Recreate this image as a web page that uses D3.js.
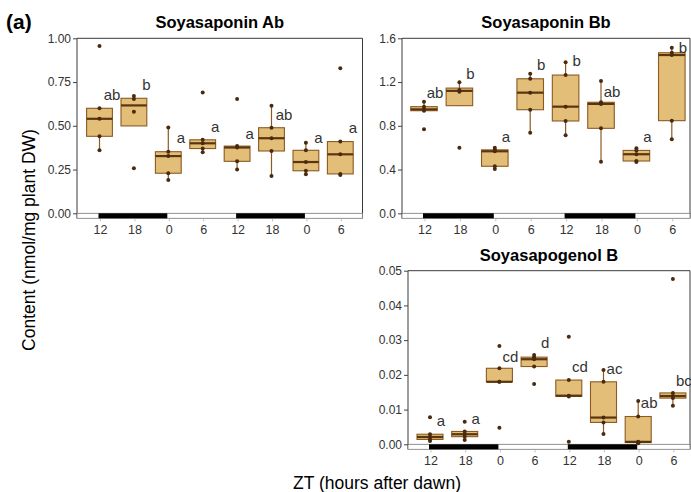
<!DOCTYPE html>
<html>
<head>
<meta charset="utf-8">
<script src="https://cdn.jsdelivr.net/npm/d3@7"></script>
<style>
  body { margin: 0; background: #fff; }
  svg text { font-family: "Liberation Sans", Arial, sans-serif; }
</style>
</head>
<body>
<svg id="chart" width="691" height="492"></svg>
<script>
/********************************* DONNEES *********************************/
// heures ZT (axe x), identiques pour les 3 panneaux
var zt = ["12", "18", "0", "6", "12", "18", "0", "6"];
// périodes de nuit (index de catégorie début -> fin)
var nights = [[0, 2], [4, 6]];

// Soyasaponin Ab (nmol/mg)
var abVals = [
  [0.956, 0.60, 0.54, 0.44, 0.36],
  [0.67, 0.653, 0.58, 0.257],
  [0.49, 0.352, 0.327, 0.229, 0.19],
  [0.691, 0.42, 0.40, 0.37, 0.349],
  [0.653, 0.384, 0.376, 0.297, 0.251],
  [0.615, 0.489, 0.429, 0.356, 0.213],
  [0.403, 0.36, 0.293, 0.243, 0.223],
  [0.829, 0.41, 0.337, 0.225, 0.219]
];
var abLetters = ["ab", "b", "a", "a", "a", "ab", "a", "a"];
var abLetterY = [0.647, 0.705, 0.402, 0.466, 0.423, 0.533, 0.403, 0.457];
var abTicks = [0, 0.25, 0.5, 0.75, 1];

// Soyasaponin Bb
var bbVals = [
  [1.02, 0.975, 0.95, 0.938, 0.768],
  [1.198, 1.127, 1.112, 0.60],
  [0.60, 0.58, 0.567, 0.43, 0.405],
  [1.276, 1.23, 1.103, 0.947, 0.737],
  [1.38, 1.264, 0.975, 0.844, 0.713],
  [1.21, 1.015, 1.0, 0.777, 0.472],
  [0.595, 0.575, 0.54, 0.478, 0.47],
  [1.514, 1.468, 1.447, 0.847, 0.677]
];
var bbLetters = ["ab", "b", "a", "b", "b", "ab", "a", "b"];
var bbLetterY = [1.051, 1.225, 0.655, 1.31, 1.347, 1.066, 0.655, 1.468];
var bbTicks = [0, 0.4, 0.8, 1.2, 1.6];

// Soyasapogenol B
var sgVals = [
  [0.0078, 0.0029, 0.0021, 0.0014, 0.00095],
  [0.0065, 0.0037, 0.0029, 0.0022, 0.00124],
  [0.0283, 0.0219, 0.018, 0.018, 0.0048],
  [0.0257, 0.0251, 0.0245, 0.0224, 0.0174],
  [0.031, 0.0185, 0.014, 0.0138, 0.00075],
  [0.0214, 0.018, 0.0077, 0.0063, 0.003],
  [0.0125, 0.008, 0.0007, 0.0005, 0.0003],
  [0.0476, 0.0148, 0.0139, 0.0133, 0.0111]
];
var sgLetters = ["a", "a", "cd", "d", "cd", "ac", "ab", "bc"];
var sgLetterY = [0.00527, 0.00585, 0.0238, 0.0276, 0.0209, 0.02025, 0.01054, 0.0168];
var sgTicks = [0, 0.01, 0.02, 0.03, 0.04, 0.05];

/********************************* STYLE *********************************/
var boxFill = "#e3be78";
var boxStroke = "#8c5a22";
var medColor = "#5b3410";
var dotColor = "#4a2a0e";
var textGrey = "#333";

var svg = d3.select("#chart");

// stats de boxplot (quantiles type 7 comme R, moustaches de Tukey)
function boxStats(v) {
  var s = v.slice().sort(d3.ascending);
  var q1 = d3.quantileSorted(s, 0.25),
      med = d3.quantileSorted(s, 0.5),
      q3 = d3.quantileSorted(s, 0.75);
  var iqr = q3 - q1;
  var lo = d3.min(s.filter(d => d >= q1 - 1.5 * iqr));
  var hi = d3.max(s.filter(d => d <= q3 + 1.5 * iqr));
  return { q1: q1, med: med, q3: q3, lo: lo, hi: hi };
}

/************************** FONCTION PRINCIPALE : PANNEAU **************************/
function drawPanel(p) {
  var x = d3.scalePoint()
    .domain(d3.range(zt.length))
    .range([p.c0, p.c0 + p.step * (zt.length - 1)]);
  var y = d3.scaleLinear().domain([0, p.max]).range([p.y0, p.y1]);
  var barH = 5;
  var bw = p.step * 0.75;

  var g = svg.append("g");

  // titre
  g.append("text")
    .attr("x", (p.left + p.right) / 2)
    .attr("y", p.titleY)
    .attr("text-anchor", "middle")
    .style("font-size", "16.5px")
    .style("font-weight", "bold")
    .text(p.title);

  // cadre (gauche, haut, droite)
  g.append("path")
    .attr("d", "M" + p.left + "," + (p.y0 + barH) + "V" + p.y1 + "H" + p.right + "V" + (p.y0 + barH))
    .attr("fill", "none")
    .attr("stroke", "#3a3a3a")
    .attr("stroke-width", 1);

  // bande jour / nuit sous l'axe
  g.append("rect")
    .attr("x", p.left).attr("y", p.y0)
    .attr("width", p.right - p.left).attr("height", barH)
    .attr("fill", "#fff").attr("stroke", "#777").attr("stroke-width", 0.8);
  g.selectAll(".night")
    .data(nights)
    .enter().append("rect")
    .attr("class", "night")
    .attr("x", d => x(d[0]) - 1)
    .attr("y", p.y0)
    .attr("width", d => x(d[1]) - x(d[0]))
    .attr("height", barH)
    .attr("fill", "#000");

  // axe y
  var yAxis = d3.axisLeft(y)
    .tickValues(p.ticks)
    .tickFormat(d3.format(p.fmt))
    .tickSize(4)
    .tickPadding(2);
  var ya = g.append("g").attr("transform", "translate(" + p.left + ",0)").call(yAxis);
  ya.select(".domain").remove();
  ya.selectAll("line").attr("stroke", "#444");
  ya.selectAll("text")
    .attr("fill", textGrey)
    .style("font-size", "12px")
    .style("font-family", "'Liberation Sans', Arial, sans-serif");

  // axe x (libellés ZT)
  g.selectAll(".xtick")
    .data(zt)
    .enter().append("line")
    .attr("x1", (d, i) => x(i) + 1).attr("x2", (d, i) => x(i) + 1)
    .attr("y1", p.y0 + barH + 1).attr("y2", p.y0 + barH + 3)
    .attr("stroke", "#bbb");
  g.selectAll(".xlab")
    .data(zt)
    .enter().append("text")
    .attr("x", (d, i) => x(i) + 1)
    .attr("y", p.y0 + 21)
    .attr("text-anchor", "middle")
    .attr("fill", textGrey)
    .style("font-size", "12.5px")
    .text(d => d);

  // boxplots
  p.vals.forEach(function(v, i) {
    var s = boxStats(v);
    var cx = x(i);
    // moustaches
    g.append("line")
      .attr("x1", cx).attr("x2", cx)
      .attr("y1", y(s.hi)).attr("y2", y(s.q3))
      .attr("stroke", boxStroke).attr("stroke-width", 1.2);
    g.append("line")
      .attr("x1", cx).attr("x2", cx)
      .attr("y1", y(s.q1)).attr("y2", y(s.lo))
      .attr("stroke", boxStroke).attr("stroke-width", 1.2);
    // boîte
    g.append("rect")
      .attr("x", cx - bw / 2).attr("y", y(s.q3))
      .attr("width", bw).attr("height", Math.max(1, y(s.q1) - y(s.q3)))
      .attr("fill", boxFill)
      .attr("stroke", boxStroke).attr("stroke-width", 1.1);
    // médiane
    g.append("line")
      .attr("x1", cx - bw / 2).attr("x2", cx + bw / 2)
      .attr("y1", y(s.med)).attr("y2", y(s.med))
      .attr("stroke", medColor).attr("stroke-width", 2.2);
    // points individuels
    g.selectAll(null)
      .data(v)
      .enter().append("circle")
      .attr("cx", cx)
      .attr("cy", d => y(d))
      .attr("r", 2)
      .attr("fill", dotColor);
  });

  // lettres de significativité
  g.selectAll(".letter")
    .data(p.letters)
    .enter().append("text")
    .attr("x", (d, i) => x(i) + p.letterDx)
    .attr("y", (d, i) => y(p.letterY[i]))
    .attr("text-anchor", "middle")
    .attr("fill", textGrey)
    .style("font-size", "15px")
    .text(d => d);
}

drawPanel({
  title: "Soyasaponin Ab", vals: abVals, letters: abLetters, letterY: abLetterY,
  ticks: abTicks, fmt: ".2f", max: 1,
  c0: 99.5, step: 34.4, left: 77, right: 362.5, y0: 213.3, y1: 38.3, titleY: 28, letterDx: 12.5
});
drawPanel({
  title: "Soyasaponin Bb", vals: bbVals, letters: bbLetters, letterY: bbLetterY,
  ticks: bbTicks, fmt: ".1f", max: 1.6,
  c0: 424, step: 35.4, left: 402, right: 690, y0: 213.3, y1: 38.3, titleY: 28, letterDx: 11
});
drawPanel({
  title: "Soyasapogenol B", vals: sgVals, letters: sgLetters, letterY: sgLetterY,
  ticks: sgTicks, fmt: ".2f", max: 0.05,
  c0: 430, step: 34.7, left: 408, right: 690, y0: 444.3, y1: 270.7, titleY: 260.5, letterDx: 11
});

// étiquette du panneau
svg.append("text")
  .attr("x", 6).attr("y", 29)
  .style("font-size", "21px").style("font-weight", "bold")
  .text("(a)");

// titres des axes
svg.append("text")
  .attr("transform", "translate(34.5,240) rotate(-90)")
  .attr("text-anchor", "middle")
  .style("font-size", "17.5px")
  .text("Content (nmol/mg plant DW)");
svg.append("text")
  .attr("x", 377).attr("y", 489)
  .attr("text-anchor", "middle")
  .style("font-size", "17.5px")
  .text("ZT (hours after dawn)");
</script>
</body>
</html>
